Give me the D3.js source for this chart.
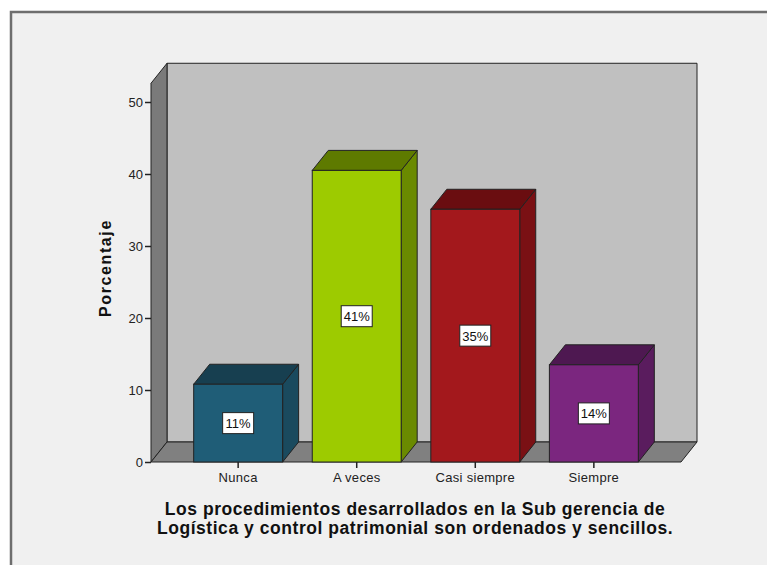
<!DOCTYPE html>
<html>
<head>
<meta charset="utf-8">
<script src="https://cdn.jsdelivr.net/npm/d3@7"></script>
<style>
    html, body { margin: 0; padding: 0; background: #ffffff; }
    svg { display: block; font-family: 'Liberation Sans', Arial, sans-serif; }
</style>
</head>
<body>
<svg id="chart" width="767" height="565"></svg>
<script>
(function () {
    'use strict';

    // data
    const categories = ['Nunca', 'A veces', 'Casi siempre', 'Siempre'];
    const values = [10.8, 40.5, 35.1, 13.5];
    const valueLabels = ['11%', '41%', '35%', '14%'];
    const yTicks = [0, 10, 20, 30, 40, 50];
    const yTitle = 'Porcentaje';
    const xTitle = [
        'Los procedimientos desarrollados en la Sub gerencia de',
        'Logística y control patrimonial son ordenados y sencillos.'
    ];

    const frontColors = ['#1f5d77', '#9dcb00', '#a3181c', '#7b267f'];
    const topColors = ['#173f50', '#5e7a00', '#6a0d10', '#4e1851'];
    const sideColors = ['#1a4a5e', '#6a8a00', '#7a1014', '#5a1c5e'];

    const depth = { dx: 16, dy: -20 };
    const plot = { left: 151, right: 681, bottom: 462 };

    const svg = d3.select('#chart');

    // frame
    svg.append('rect')
        .attr('x', 0).attr('y', 0).attr('width', 767).attr('height', 565)
        .attr('fill', '#ffffff');
    svg.append('rect')
        .attr('x', 11).attr('y', 12).attr('width', 800).attr('height', 600)
        .attr('fill', '#f0f0f0')
        .attr('stroke', '#6e6e6e')
        .attr('stroke-width', 2.5);

    const yScale = d3.scaleLinear()
        .domain([0, 50])
        .range([plot.bottom, 102]);
    const yTop = yScale(52.6);

    const xScale = d3.scaleBand()
        .domain(categories)
        .range([plot.left, plot.right])
        .paddingInner(0.25)
        .paddingOuter(0.36);

    const pts = (arr) => arr.map((p) => p.join(',')).join(' ');
    const edge = '#222222';

    // back wall
    svg.append('polygon')
        .attr('points', pts([
            [plot.left + depth.dx, yTop + depth.dy],
            [plot.right + depth.dx, yTop + depth.dy],
            [plot.right + depth.dx, plot.bottom + depth.dy],
            [plot.left + depth.dx, plot.bottom + depth.dy]
        ]))
        .attr('fill', '#c0c0c0')
        .attr('stroke', edge);

    // left wall
    svg.append('polygon')
        .attr('points', pts([
            [plot.left, plot.bottom],
            [plot.left, yTop],
            [plot.left + depth.dx, yTop + depth.dy],
            [plot.left + depth.dx, plot.bottom + depth.dy]
        ]))
        .attr('fill', '#7a7a7a')
        .attr('stroke', edge);

    // floor
    svg.append('polygon')
        .attr('points', pts([
            [plot.left, plot.bottom],
            [plot.left + depth.dx, plot.bottom + depth.dy],
            [plot.right + depth.dx, plot.bottom + depth.dy],
            [plot.right, plot.bottom]
        ]))
        .attr('fill', '#808080')
        .attr('stroke', edge);

    // bars
    const bars = svg.append('g');
    categories.forEach((c, i) => {
        const x0 = xScale(c);
        const x1 = x0 + xScale.bandwidth();
        const y0 = yScale(0);
        const y1 = yScale(values[i]);
        const g = bars.append('g');

        g.append('polygon')
            .attr('points', pts([
                [x1, y0], [x1, y1],
                [x1 + depth.dx, y1 + depth.dy], [x1 + depth.dx, y0 + depth.dy]
            ]))
            .attr('fill', sideColors[i])
            .attr('stroke', edge);
        g.append('polygon')
            .attr('points', pts([
                [x0, y1], [x0 + depth.dx, y1 + depth.dy],
                [x1 + depth.dx, y1 + depth.dy], [x1, y1]
            ]))
            .attr('fill', topColors[i])
            .attr('stroke', edge);
        g.append('rect')
            .attr('x', x0).attr('y', y1)
            .attr('width', x1 - x0).attr('height', y0 - y1)
            .attr('fill', frontColors[i])
            .attr('stroke', edge);

        const cx = (x0 + x1) / 2;
        const cy = (y0 + y1) / 2;
        g.append('rect')
            .attr('x', cx - 15.5).attr('y', cy - 10.5)
            .attr('width', 31).attr('height', 21)
            .attr('fill', '#ffffff')
            .attr('stroke', '#222222');
        g.append('text')
            .attr('x', cx).attr('y', cy + 5)
            .attr('text-anchor', 'middle')
            .attr('font-size', 13)
            .attr('fill', '#111111')
            .text(valueLabels[i]);
    });

    // y axis
    const yAxis = d3.axisLeft(yScale)
        .tickValues(yTicks)
        .tickSize(6)
        .tickSizeOuter(0)
        .tickPadding(2)
        .tickFormat(d3.format('d'));
    const yg = svg.append('g')
        .attr('transform', `translate(${plot.left}, 0)`)
        .call(yAxis);
    yg.select('.domain').remove();
    yg.selectAll('line').attr('stroke', '#222222').attr('stroke-width', 1.5);
    yg.selectAll('text')
        .attr('font-size', 13)
        .attr('font-family', "'Liberation Sans', Arial, sans-serif")
        .attr('fill', '#222222');

    // x axis
    const xAxis = d3.axisBottom(xScale)
        .tickSize(6)
        .tickSizeOuter(0)
        .tickPadding(5);
    const xg = svg.append('g')
        .attr('transform', `translate(0, ${plot.bottom})`)
        .call(xAxis);
    xg.select('.domain').remove();
    xg.selectAll('line').attr('stroke', '#222222').attr('stroke-width', 1.5);
    xg.selectAll('text')
        .attr('font-size', 13)
        .attr('letter-spacing', 0.3)
        .attr('font-family', "'Liberation Sans', Arial, sans-serif")
        .attr('fill', '#222222');

    // titles
    svg.append('text')
        .attr('transform', 'translate(111, 268) rotate(-90)')
        .attr('text-anchor', 'middle')
        .attr('font-size', 16)
        .attr('letter-spacing', 1.6)
        .attr('font-weight', 'bold')
        .attr('fill', '#111111')
        .text(yTitle);

    svg.append('text')
        .attr('x', 415).attr('y', 515)
        .attr('text-anchor', 'middle')
        .attr('font-size', 17.5)
        .attr('letter-spacing', 0.55)
        .attr('font-weight', 'bold')
        .attr('fill', '#111111')
        .selectAll('tspan')
        .data(xTitle)
        .join('tspan')
            .attr('x', 415)
            .attr('dy', (d, i) => i === 0 ? 0 : 18.5)
            .text((d) => d);
})();
</script>
</body>
</html>
